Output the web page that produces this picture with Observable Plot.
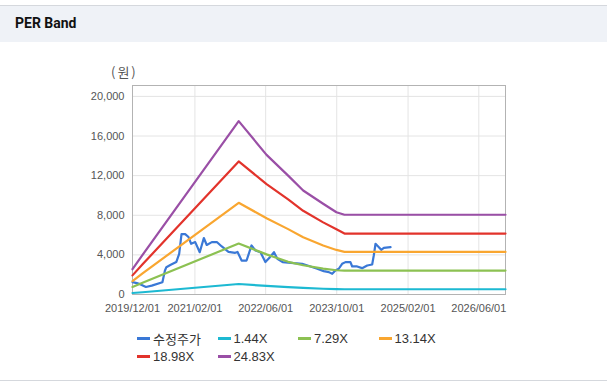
<!DOCTYPE html>
<html><head><meta charset="utf-8">
<script src="https://cdn.jsdelivr.net/npm/d3@7"></script>
<script src="https://cdn.jsdelivr.net/npm/@observablehq/plot@0.6"></script>
<style>
body{margin:0;background:#fff;}
#wrap{position:relative;width:607px;height:387px;overflow:hidden;font-family:"Liberation Sans",Arial,sans-serif;background:#fff;}
#titlebar{position:absolute;left:0;top:5px;width:607px;height:36px;background:#eff2f7;border-top:1px solid #d5d8dd;}
#title{position:absolute;left:15px;top:9px;font:700 14px Roboto,"Liberation Sans",sans-serif;color:#111;}
#unit{position:absolute;left:111px;top:64px;font:13px "Noto Sans CJK KR","Liberation Sans",sans-serif;color:#555;letter-spacing:2px;line-height:16px;}
#chart{position:absolute;left:0;top:60px;}
.lg{position:absolute;height:18px;display:flex;align-items:center;font:13px "Liberation Sans","Noto Sans CJK KR",sans-serif;color:#333;white-space:nowrap;}
.lg i{display:inline-block;width:13px;height:3px;margin-right:3px;}
#bottomline{position:absolute;left:0;top:380px;width:607px;height:0;border-top:1px solid #d5d8dd;}
</style>
</head><body>
<div id="wrap">
  <div id="titlebar"><div id="title">PER Band</div></div>
  <div id="unit">(원)</div>
  <div id="chart"></div>
  <div id="legend"></div>
  <div id="bottomline"></div>
</div>
<script>
// ---- data ----
const seriesNames = ["수정주가", "1.44X", "7.29X", "13.14X", "18.98X", "24.83X"];
const seriesColors = ["#3a78d6", "#1db9d2", "#8cc152", "#f9a630", "#e2332b", "#9a4fa6"];

const priceDates = ["2019-12-01","2019-12-31","2020-01-15","2020-03-02","2020-04-11","2020-06-23","2020-07-10","2020-07-20","2020-08-19","2020-09-26","2020-10-16","2020-11-01","2020-11-26","2020-12-19","2021-01-06","2021-02-03","2021-03-06","2021-04-03","2021-04-23","2021-05-28","2021-07-01","2021-08-04","2021-09-19","2021-11-04","2021-11-20","2021-12-18","2022-01-21","2022-02-24","2022-03-23","2022-04-26","2022-05-30","2022-06-30","2022-07-28","2022-08-20","2022-09-25","2022-12-11","2023-02-06","2023-04-04","2023-05-20","2023-07-04","2023-08-08","2023-08-31","2023-09-22","2023-10-15","2023-11-07","2023-11-30","2024-01-03","2024-01-15","2024-02-18","2024-03-23","2024-04-27","2024-05-31","2024-06-11","2024-06-23","2024-07-16","2024-08-01","2024-08-19","2024-10-04"];
const priceValues = [1250,1150,1080,760,900,1240,2400,2760,3000,3270,4100,6100,6100,5800,5120,5290,4270,5700,5000,5290,5300,4850,4300,4210,4300,3430,3430,4950,4440,4270,3270,3770,4270,3600,3270,3160,3100,2830,2600,2360,2260,2090,2420,2600,3100,3270,3270,2830,2830,2660,2930,3030,3940,5120,4780,4510,4710,4780];

const bandDates = ["2019-12-01","2020-02-08","2021-11-28","2022-06-07","2022-11-02","2023-02-13","2023-06-30","2023-09-29","2023-11-23","2026-12-01"];
const band144 = [150,230,1060,870,740,660,580,540,530,530];
const band729 = [760,1180,5150,4050,3300,2950,2620,2450,2420,2420];
const band1314 = [1350,2130,9260,7700,6600,5780,4950,4500,4300,4300];
const band1898 = [1930,3050,13430,11150,9600,8450,7280,6580,6150,6150];
const band2483 = [2550,4000,17500,14100,12000,10500,9160,8300,8050,8050];

const xTickLabels = ["2019-12-01","2021-02-01","2022-06-01","2023-10-01","2025-02-01","2026-06-01"];
const xDomain = ["2019-12-01","2026-12-01"];
const yTicks = [0,4000,8000,12000,16000,20000];
const yMax = 21100;

// ---- build ----
const parse = d3.utcParse("%Y-%m-%d");
const rows = [];
priceDates.forEach((d,i)=>rows.push({s:seriesNames[0], date:parse(d), v:priceValues[i]}));
const bands = [band144, band729, band1314, band1898, band2483];
bands.forEach((b,k)=>bandDates.forEach((d,i)=>rows.push({s:seriesNames[k+1], date:parse(d), v:b[i]})));

const xt = xTickLabels.map(parse);
const lines = seriesNames.map((n,k)=>Plot.line(rows.filter(r=>r.s===n), {x:"date", y:"v", stroke:seriesColors[k], strokeWidth:2.2, strokeLinejoin:"round"}));

const plot = Plot.plot({
  width: 607, height: 265,
  marginLeft: 132, marginRight: 102, marginTop: 25, marginBottom: 31,
  style: {fontFamily: "'Liberation Sans', Arial, sans-serif", fontSize: "11px", color: "#555", background: "transparent", overflow: "visible"},
  x: {type: "utc", domain: xDomain.map(parse), ticks: xt, tickFormat: d3.utcFormat("%Y/%m/%d"), tickSize: 0, tickPadding: 10, label: null},
  y: {domain: [0, yMax], ticks: yTicks, tickFormat: d3.format(","), tickSize: 0, tickPadding: 8, label: null},
  marks: [
    Plot.ruleX(xt, {stroke: "#e4e4e4"}),
    Plot.ruleY(yTicks, {stroke: "#e4e4e4"}),
    Plot.frame({stroke: "#b3b3b3"}),
    ...lines
  ]
});
document.getElementById("chart").appendChild(plot);

// legend
const lg = document.getElementById("legend");
seriesNames.forEach((n,k)=>{
  const col = k % 4, row = Math.floor(k / 4);
  const el = document.createElement("div");
  el.className = "lg";
  el.style.left = (137 + col*80.5) + "px";
  el.style.top = (329 + row*18) + "px";
  el.innerHTML = `<i style="background:${seriesColors[k]}"></i>${n}`;
  lg.appendChild(el);
});
</script>
</body></html>
